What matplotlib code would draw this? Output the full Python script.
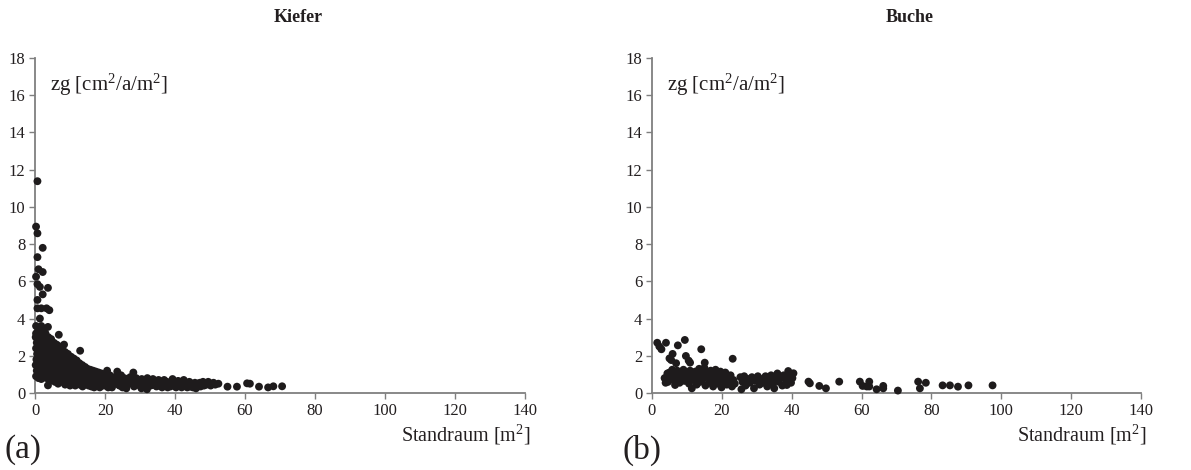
import matplotlib
matplotlib.use("Agg")
import matplotlib.pyplot as plt

plt.rcParams['font.family'] = ['Liberation Serif', 'DejaVu Serif']
plt.rcParams['mathtext.fontset'] = 'custom'
plt.rcParams['mathtext.rm'] = 'Liberation Serif'
plt.rcParams['mathtext.it'] = 'Liberation Serif:italic'

# Kiefer (pine): growing space [m2] vs. basal area increment per area
kiefer_x = [
    0.7, 0.3, 0.7, 2.2, 0.7, 1.0, 2.2, 0.3, 0.7, 1.4,
    3.7, 2.2, 0.7, 0.7, 1.8, 3.3, 4.1, 1.4, 0.3, 1.8,
    3.7, 0.3, 6.8, 12.9, 8.3, 3.7,
    0.2, 0.5, 0.3, 0.6, 0.4, 0.2, 0.5, 0.3, 0.8, 1.0,
    1.2, 0.9, 1.1, 1.3, 0.9, 1.2, 1.0, 1.6, 1.8, 1.5,
    1.7, 2.0, 1.6, 1.9, 1.5, 1.8, 2.3, 2.5, 2.2, 2.6,
    2.4, 2.2, 2.7, 2.3, 2.5, 3.0, 3.2, 2.9, 3.3, 3.0,
    3.4, 3.1, 2.9, 3.3, 3.8, 4.0, 3.7, 4.1, 3.9, 4.2,
    3.8, 4.0, 4.3, 4.6, 4.8, 4.5, 4.9, 4.7, 5.0, 4.6,
    4.9,
    5.4, 5.6, 5.3, 5.7, 5.5, 5.8, 5.4, 5.7, 6.2, 6.4,
    6.1, 6.5, 6.3, 6.0, 6.4, 6.6, 7.0, 7.2, 6.9, 7.3,
    7.1, 7.4, 7.0, 7.8, 8.0, 7.7, 8.1, 7.9, 8.2, 7.8,
    8.6, 8.8, 8.5, 8.9, 8.7, 9.0, 8.6, 9.4, 9.6, 9.3,
    9.7, 9.5, 9.8, 10.0,
    10.3, 10.5, 10.2, 10.6, 10.4, 10.7, 11.1, 11.3, 11.0, 11.4,
    11.2, 11.5, 11.9, 12.1, 11.8, 12.2, 12.0, 12.7, 12.9, 12.6,
    13.0, 12.8, 13.5, 13.7, 13.4, 13.8, 13.6, 14.3, 14.5, 14.2,
    14.6, 15.0, 15.2, 14.9, 15.3,
    15.8, 16.0, 15.7, 16.1, 16.6, 16.8, 16.5, 16.9, 17.4, 17.6,
    17.3, 18.2, 18.4, 18.1, 18.5, 19.0, 19.2, 18.9, 19.8, 20.0,
    19.7, 20.6, 20.8, 20.5, 20.9, 21.4, 21.6, 21.3, 22.2, 22.4,
    22.0,
    23.0, 23.2, 23.5, 23.9, 24.1, 24.6, 24.8, 25.0, 25.5, 25.7,
    26.3, 26.5, 26.1, 27.2, 27.4, 28.1, 28.0, 28.3, 28.9, 29.1,
    29.7, 29.9, 30.5, 30.7, 30.4, 31.3, 31.5, 32.1, 32.3, 32.0,
    32.9, 33.1, 33.7, 33.9, 34.5, 34.7,
    35.3, 35.5, 36.1, 36.3, 36.9, 37.1, 37.7, 37.9, 38.5, 38.7,
    39.3, 39.5, 40.1, 40.3, 40.9, 41.1, 41.7, 41.9, 42.5, 42.7,
    43.3, 43.5, 44.1, 44.3, 44.9, 45.1, 45.7, 46.0, 46.5, 47.1,
    47.3, 48.0, 48.3, 49.0, 49.5, 50.2, 51.0, 51.5, 52.4,
    55.0, 57.7, 60.6, 61.4, 64.0, 66.6, 68.1, 70.6,
]
kiefer_y = [
    11.38, 8.94, 8.58, 7.80, 7.30, 6.65, 6.50, 6.25, 5.85, 5.70,
    5.65, 5.30, 5.00, 4.55, 4.55, 4.55, 4.45, 4.00, 3.60, 3.60,
    3.55, 3.20, 3.13, 2.27, 2.60, 0.41,
    3.0, 2.7, 2.4, 2.1, 1.8, 1.5, 1.2, 0.9, 3.3, 2.9,
    2.6, 2.3, 2.0, 1.7, 1.4, 1.1, 0.8, 3.1, 2.8, 2.5,
    2.2, 1.9, 1.6, 1.3, 1.0, 0.75, 3.4, 3.0, 2.7, 2.4,
    2.1, 1.8, 1.5, 1.2, 0.9, 3.2, 2.9, 2.6, 2.3, 2.0,
    1.7, 1.4, 1.1, 0.8, 3.0, 2.7, 2.4, 2.1, 1.8, 1.5,
    1.2, 0.9, 0.65, 2.9, 2.6, 2.3, 2.0, 1.7, 1.4, 1.1,
    0.8,
    2.7, 2.4, 2.1, 1.8, 1.5, 1.2, 0.9, 0.6, 2.6, 2.3,
    2.0, 1.7, 1.4, 1.1, 0.8, 0.5, 2.5, 2.2, 1.9, 1.6,
    1.3, 1.0, 0.7, 2.4, 2.1, 1.8, 1.5, 1.2, 0.9, 0.6,
    2.2, 1.9, 1.6, 1.3, 1.0, 0.7, 0.45, 2.1, 1.8, 1.5,
    1.2, 0.9, 0.6, 0.4,
    1.95, 1.7, 1.4, 1.1, 0.8, 0.5, 1.85, 1.55, 1.25, 0.95,
    0.65, 0.4, 1.75, 1.45, 1.15, 0.85, 0.55, 1.6, 1.3, 1.0,
    0.7, 0.45, 1.5, 1.2, 0.9, 0.6, 0.35, 1.4, 1.1, 0.8,
    0.5, 1.3, 1.0, 0.7, 0.4,
    1.25, 0.95, 0.65, 0.35, 1.2, 0.9, 0.6, 0.3, 1.15, 0.85,
    0.55, 1.1, 0.8, 0.5, 0.3, 1.05, 0.75, 0.45, 1.0, 0.7,
    0.4, 1.2, 0.9, 0.6, 0.3, 0.95, 0.65, 0.35, 0.85, 0.55,
    0.3,
    0.8, 0.5, 1.15, 0.7, 0.4, 0.95, 0.6, 0.3, 0.8, 0.5,
    0.75, 0.45, 0.25, 0.85, 0.55, 1.1, 0.65, 0.35, 0.8, 0.5,
    0.7, 0.4, 0.75, 0.45, 0.25, 0.65, 0.35, 0.8, 0.5, 0.2,
    0.7, 0.4, 0.75, 0.45, 0.65, 0.35,
    0.7, 0.4, 0.6, 0.3, 0.7, 0.45, 0.6, 0.3, 0.55, 0.35,
    0.75, 0.45, 0.6, 0.3, 0.65, 0.4, 0.55, 0.3, 0.7, 0.45,
    0.55, 0.3, 0.6, 0.35, 0.5, 0.3, 0.55, 0.25, 0.5, 0.55,
    0.35, 0.6, 0.4, 0.45, 0.6, 0.4, 0.55, 0.45, 0.5,
    0.34, 0.34, 0.52, 0.50, 0.34, 0.30, 0.36, 0.36,
]

# Buche (beech)
buche_x = [
    1.5, 2.1, 2.7, 4.0, 7.4, 9.4, 5.9, 5.0, 5.5, 9.7,
    10.5, 10.9, 14.1, 15.1, 23.1, 6.9,
    3.6, 3.9, 4.4, 4.2, 4.6, 5.0, 5.3, 5.8, 6.1, 6.6,
    6.8, 7.2, 7.5, 7.9, 8.2, 8.6, 9.0, 9.3, 9.8, 10.1,
    10.6, 10.9, 11.4, 11.6, 12.0, 12.4, 12.8, 13.1, 13.5, 13.8,
    14.2, 14.6, 15.0, 15.3, 15.7, 16.0, 16.4, 16.8, 17.1, 17.5,
    17.8, 18.2, 18.5, 18.9, 19.2, 19.6, 19.9, 20.3, 20.6, 21.0,
    21.4, 21.8, 22.1, 22.5, 22.9, 23.3, 23.7, 25.3, 25.6, 25.9,
    26.4, 26.8, 27.5, 28.0, 28.6, 29.2, 29.6, 30.3, 30.8, 31.4,
    31.9, 32.5, 33.0, 33.5, 34.1, 34.6, 35.0, 35.4, 35.9, 36.3,
    36.8, 37.3, 37.7, 38.3, 38.6, 39.0, 39.4, 39.8, 40.5, 40.2,
    44.8, 45.2, 47.9, 49.8, 53.6, 59.5, 60.3, 61.5, 62.2, 62.2,
    64.3, 66.2, 66.2, 70.4, 76.2, 76.7, 78.4, 83.2, 85.3, 87.6,
    90.6, 97.5,
]
buche_y = [
    2.70, 2.50, 2.35, 2.70, 2.56, 2.85, 2.10, 1.86, 1.77, 1.99,
    1.74, 1.63, 2.35, 1.63, 1.84, 1.60,
    0.8, 0.55, 1.05, 0.85, 0.6, 1.1, 0.9, 1.25, 0.7, 0.43,
    1.0, 1.2, 0.8, 0.55, 1.05, 0.9, 1.25, 0.65, 1.1, 0.8,
    0.5, 1.2, 0.25, 0.95, 0.7, 1.15, 0.45, 0.9, 1.3, 0.6,
    1.0, 0.75, 1.35, 0.4, 1.1, 0.85, 0.55, 1.2, 0.95, 0.35,
    0.7, 1.25, 1.0, 0.5, 0.8, 1.15, 0.3, 0.95, 0.65, 1.1,
    0.45, 0.85, 0.6, 0.95, 0.35, 0.7, 0.5, 0.85, 0.2, 0.6,
    0.9, 0.4, 0.75, 0.55, 0.85, 0.25, 0.65, 0.9, 0.45, 0.75,
    0.55, 0.9, 0.35, 0.7, 0.95, 0.5, 0.25, 0.8, 1.05, 0.6,
    0.85, 0.4, 0.95, 0.7, 0.43, 1.18, 0.85, 0.55, 1.06, 0.8,
    0.61, 0.52, 0.38, 0.25, 0.61, 0.61, 0.38, 0.35, 0.61, 0.35,
    0.20, 0.38, 0.25, 0.13, 0.61, 0.25, 0.55, 0.41, 0.41, 0.34,
    0.41, 0.41,
]

x_ticks = [0, 20, 40, 60, 80, 100, 120, 140]
y_ticks = [0, 2, 4, 6, 8, 10, 12, 14, 16, 18]

W, H = 1191, 470
fig = plt.figure(figsize=(W / 100, H / 100), dpi=100)

panels = [
    ("Kiefer", "(a)", kiefer_x, kiefer_y, 35, 525, 298),
    ("Buche", "(b)", buche_x, buche_y, 652, 1141, 910),
]
axis_grey = '#7f7f7f'
text_col = '#231f20'

for title, tag, xs, ys, left_px, right_px, title_px in panels:
    ax = fig.add_axes([left_px / W, 1 - 393 / H, (right_px - left_px) / W, (393 - 58) / H])
    ax.scatter(xs, ys, s=32, color='#1e1b1c', edgecolors='none', zorder=3, clip_on=False)
    ax.set_xlim(0, 140)
    ax.set_ylim(0, 18)
    ax.set_xticks(x_ticks)
    ax.set_yticks(y_ticks)
    for side in ('top', 'right'):
        ax.spines[side].set_visible(False)
    for side in ('left', 'bottom'):
        ax.spines[side].set_color(axis_grey)
        ax.spines[side].set_linewidth(1.3)
    ax.tick_params(direction='out', length=4, width=1.0, color=axis_grey,
                   labelsize=12, labelcolor=text_col, pad=3)
    ax.text(0.03, 0.96, r'zg [cm$^\mathregular{2}$/a/m$^\mathregular{2}$]',
            transform=ax.transAxes, fontsize=15, color=text_col, va='top', ha='left')
    ax.text(1.012, -0.09, r'Standraum [m$^\mathregular{2}$]', transform=ax.transAxes,
            fontsize=14.5, color=text_col, va='top', ha='right')
    fig.text(title_px / W, 1 - 17 / H, title, fontsize=13, fontweight='bold',
             color=text_col, ha='center', va='center')
    fig.text((left_px - 30) / W, 1 - 450 / H, tag, fontsize=24,
             color=text_col, ha='left', va='center')

fig.savefig('out.png', dpi=100, facecolor='white')
